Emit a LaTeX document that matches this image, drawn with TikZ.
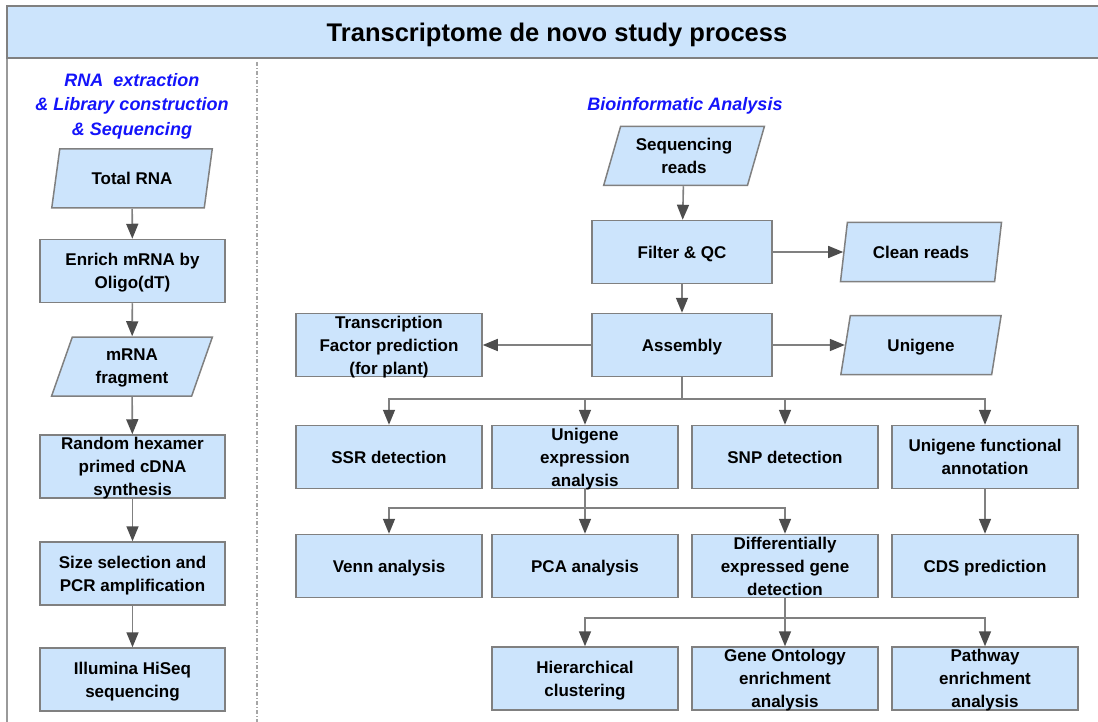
\documentclass[tikz,border=0pt]{standalone}
\usepackage{fontspec}
\setmainfont{Liberation Sans}
\usepackage{tikz}
\usetikzlibrary{shapes.geometric,arrows.meta,calc}
\definecolor{boxfill}{RGB}{204,228,252}
\definecolor{boxline}{RGB}{128,128,128}
\definecolor{tipgray}{RGB}{77,77,77}
\definecolor{headblue}{RGB}{20,20,250}
\tikzset{
   proc node/.style={rectangle,fill=boxfill,draw=boxline,line width=1.5pt,
                     minimum width=186pt,minimum height=63pt,inner sep=0pt,align=center,text depth=0pt,
                     font=\fontsize{17}{23}\selectfont\bfseries},
   data node/.style={proc node,trapezium,trapezium left angle=70,trapezium right angle=110,
                     trapezium stretches=true,minimum width=161pt,minimum height=59pt},
   head text/.style={align=center,text=headblue,text depth=0pt,font=\fontsize{18}{24.5}\selectfont\bfseries\itshape}
}
\begin{document}
\begin{tikzpicture}[x=1pt,y=-1pt,
                    flow/.style={draw=boxline,line width=1.6pt,-{Triangle[length=15pt,width=12pt,color=tipgray]}}]
\clip (0,0) rectangle (1098,722);
% frame and title band
\draw[boxline!80,line width=1.5pt] (7,58) -- (7,740);
\path[fill=boxfill,draw=boxline,line width=1.8pt] (7,6) rectangle (1120,58);
\node[font=\fontsize{25.5}{30}\selectfont\bfseries,text depth=0pt] (title) at (557,32) {Transcriptome de novo study process};
\draw[boxline!70,line width=1.2pt,dash pattern=on 4pt off 2pt on 1pt off 2pt] (257,62) -- (257,740);
%
\node[head text] (lab) at (132,104) {RNA~ extraction\\\& Library construction\\\& Sequencing};
\node[head text] (bio) at (685,104) {Bioinformatic Analysis};
% left column
\node[data node] (trna)   at (132,178.5) {Total RNA};
\node[proc node,minimum width=185pt] (enrich) at (132.5,271) {Enrich mRNA by\\Oligo(dT)};
\node[data node] (frag)   at (132,366.5) {mRNA\\fragment};
\node[proc node,minimum width=185pt] (cdna)   at (132.5,466.5) {Random hexamer\\primed cDNA\\synthesis};
\node[proc node,minimum width=185pt] (size)   at (132.5,573.5) {Size selection and\\PCR amplification};
\node[proc node,minimum width=185pt] (hiseq)  at (132.5,679.5) {Illumina HiSeq\\sequencing};
% right part
\node[data node] (reads)  at (684,156)   {Sequencing\\reads};
\node[proc node,minimum width=180pt] (filt)   at (682,252) {Filter \& QC};
\node[data node] (clean)  at (921,252)   {Clean reads};
\node[proc node,minimum width=180pt] (asm)    at (682,345) {Assembly};
\node[proc node] (tf)     at (389,345)   {Transcription\\Factor prediction\\(for plant)};
\node[data node] (uni)    at (921,345)   {Unigene};
%
\node[proc node] (ssr)    at (389,457)   {SSR detection};
\node[proc node] (uexp)   at (585,457)   {Unigene\\expression\\analysis};
\node[proc node] (snp)    at (785,457)   {SNP detection};
\node[proc node] (ufa)    at (985,457)   {Unigene functional\\annotation};
%
\node[proc node] (venn)   at (389,566)   {Venn analysis};
\node[proc node] (pca)    at (585,566)   {PCA analysis};
\node[proc node] (deg)    at (785,566)   {Differentially\\expressed gene\\detection};
\node[proc node] (cds)    at (985,566)   {CDS prediction};
%
\node[proc node] (hier)   at (585,678.5) {Hierarchical\\clustering};
\node[proc node] (gont)   at (785,678.5) {Gene Ontology\\enrichment\\analysis};
\node[proc node] (kegg)   at (985,678.5) {Pathway\\enrichment\\analysis};
%
\path[flow]
  (trna) edge (enrich)
  (enrich) edge (frag)
  (frag) edge (cdna)
  (cdna) edge (size)
  (size) edge (hiseq)
  (reads) edge (filt)
  (filt) edge (clean)
  (filt) edge (asm)
  (asm) edge (tf)
  (asm) edge (uni)
  (ufa) edge (cds)
  ;
\foreach \n in {ssr,uexp,snp,ufa}
  \draw[flow] (asm.south) -- ++(0,22) -| (\n.north);
\foreach \n in {venn,pca,deg}
  \draw[flow] (uexp.south) -- ++(0,19) -| (\n.north);
\foreach \n in {hier,gont,kegg}
  \draw[flow] (deg.south) -- ++(0,20) -| (\n.north);
\end{tikzpicture}
\end{document}
